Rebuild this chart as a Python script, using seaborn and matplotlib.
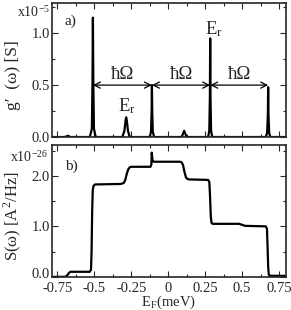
import matplotlib
matplotlib.use("Agg")
import numpy as np
import pandas as pd
import matplotlib.pyplot as plt
import matplotlib.transforms as mtransforms
import seaborn as sns
from matplotlib.ticker import MultipleLocator

# puntos: panel a) g'(w) en unidades de 1e-5 S
e_g = [-0.78, -0.70, -0.685, -0.675, -0.665, -0.53, -0.516, -0.512, -0.509, -0.506, -0.502, -0.49,
       -0.31, -0.296, -0.288, -0.284, -0.280, -0.272, -0.26,
       -0.125, -0.116, -0.112, -0.110, -0.108, -0.104, -0.095,
       0.09, 0.100, 0.108, 0.116, 0.125,
       0.27, 0.278, 0.282, 0.284, 0.286, 0.290, 0.298,
       0.66, 0.669, 0.674, 0.676, 0.678, 0.683, 0.69, 0.79]
g_val = [0.0, 0.0, 0.008, 0.012, 0.0, 0.0, 0.08, 0.5, 1.15, 0.5, 0.08, 0.0,
         0.0, 0.06, 0.16, 0.19, 0.16, 0.06, 0.0,
         0.0, 0.05, 0.25, 0.50, 0.25, 0.05, 0.0,
         0.0, 0.03, 0.06, 0.03, 0.0,
         0.0, 0.06, 0.40, 0.95, 0.40, 0.06, 0.0,
         0.0, 0.04, 0.22, 0.48, 0.22, 0.04, 0.0, 0.0]

# panel b) S(w) en unidades de 1e-26 A^2/Hz
e_s = [-0.78, -0.70, -0.69, -0.68, -0.67, -0.66, -0.53, -0.522, -0.518, -0.514, -0.510, -0.505, -0.495,
       -0.32, -0.30, -0.29, -0.28, -0.27, -0.26, -0.25,
       -0.12, -0.114, -0.111, -0.108, -0.104, -0.098,
       0.08, 0.09, 0.10, 0.11, 0.12, 0.13, 0.14,
       0.27, 0.278, 0.283, 0.288, 0.293, 0.30, 0.48, 0.50, 0.52,
       0.66, 0.668, 0.672, 0.676, 0.680, 0.686, 0.79]
s_val = [0.0, 0.0, 0.01, 0.04, 0.08, 0.10, 0.10, 0.14, 0.5, 1.3, 1.72, 1.80, 1.83,
         1.84, 1.86, 1.92, 2.04, 2.13, 2.17, 2.18,
         2.18, 2.22, 2.46, 2.36, 2.29, 2.28,
         2.28, 2.27, 2.22, 2.08, 1.97, 1.94, 1.93,
         1.92, 1.88, 1.6, 1.2, 1.07, 1.05, 1.05, 1.03, 1.01,
         1.0, 0.95, 0.6, 0.2, 0.05, 0.02, 0.02]

xticks = [-0.75, -0.5, -0.25, 0, 0.25, 0.5, 0.75]
xtick_labels = ["-0.75", "-0.5", "-0.25", "0", "0.25", "0.5", "0.75"]

sns.set_style("ticks")
plt.rcParams["font.family"] = ["Liberation Serif", "DejaVu Serif"]
plt.rcParams["mathtext.fontset"] = "stix"
plt.rcParams["axes.unicode_minus"] = False

df_g = pd.DataFrame({"E": e_g, "g": g_val})
df_s = pd.DataFrame({"E": e_s, "S": s_val})

fig = plt.figure(figsize=(2.91, 3.10), dpi=100)
ax1 = fig.add_axes([0.179, 0.558, 0.803, 0.432])
ax2 = fig.add_axes([0.179, 0.107, 0.803, 0.425])

sns.lineplot(data=df_g, x="E", y="g", ax=ax1, color="black", lw=1.6, sort=False, estimator=None)
sns.lineplot(data=df_s, x="E", y="S", ax=ax2, color="black", lw=1.6, sort=False, estimator=None)

for ax in (ax1, ax2):
    ax.set_xlim(-0.785, 0.795)
    ax.set_xticks(xticks)
    ax.xaxis.set_minor_locator(MultipleLocator(0.125))
    ax.tick_params(which="both", direction="in", top=True, right=True, labelsize=10.5,
                   width=0.8, pad=1.5)
    ax.tick_params(which="major", length=4)
    ax.tick_params(which="minor", length=2.5)
    ax.tick_params(axis="x", pad=3.5)
    for sp in ax.spines.values():
        sp.set_linewidth(1.2)
        sp.set_visible(True)

ax1.set_ylim(0, 1.29)
ax1.set_yticks([0.0, 0.5, 1.0])
ax1.set_yticklabels(["0.0", "0.5", "1.0"])
ax1.yaxis.set_minor_locator(MultipleLocator(0.25))
ax1.set_xticklabels([])
ax1.set_xlabel("")
ax1.set_ylabel("g\u2032  (\u03c9) [S]", fontsize=12.5)
ax1.yaxis.set_label_coords(-0.135, 0.46)

ax2.set_ylim(0, 2.61)
ax2.set_yticks([0.0, 1.0, 2.0])
ax2.set_yticklabels(["0.0", "1.0", "2.0"])
ax2.yaxis.set_minor_locator(MultipleLocator(0.5))
ax2.set_xticklabels(xtick_labels)
ax2.set_xlabel(r"E$_\mathregular{F}$(meV)", fontsize=10.5, labelpad=-1)
ax2.set_ylabel("S(\u03c9) [A$^\\mathregular{2}$/Hz]", fontsize=12)
ax2.yaxis.set_label_coords(-0.125, 0.46)

# subir un poco el "0.0" inferior para que no choque con "-0.75"
lbl0 = ax2.get_yticklabels()[0]
lbl0.set_transform(lbl0.get_transform() + mtransforms.ScaledTranslation(0, 2.5 / 72, fig.dpi_scale_trans))

# etiquetas de exponente
fig.text(0.058, 0.946, r"x10$^\mathregular{-5}$", fontsize=10)
fig.text(0.034, 0.477, r"x10$^\mathregular{-26}$", fontsize=10)

ax1.text(0.055, 0.84, "a)", transform=ax1.transAxes, fontsize=11)
ax2.text(0.055, 0.81, "b)", transform=ax2.transAxes, fontsize=11)

# flechas hbar Omega
peaks = [-0.509, -0.110, 0.284, 0.676]
for a, b in zip(peaks[:-1], peaks[1:]):
    ax1.annotate("", xy=(a, 0.5), xytext=(b, 0.5),
                 arrowprops=dict(arrowstyle="<->", color="black", lw=0.9,
                                 shrinkA=0, shrinkB=0, mutation_scale=11))
    ax1.text((a + b) / 2, 0.56, "\u0127\u03a9", ha="center", va="baseline", fontsize=13.5)

ax1.text(-0.278, 0.25, r"E$_\mathregular{r}$", ha="center", va="baseline", fontsize=13.5)
ax1.text(0.31, 0.99, r"E$_\mathregular{r}$", ha="center", va="baseline", fontsize=13.5)

fig.savefig("out.png", dpi=100)
